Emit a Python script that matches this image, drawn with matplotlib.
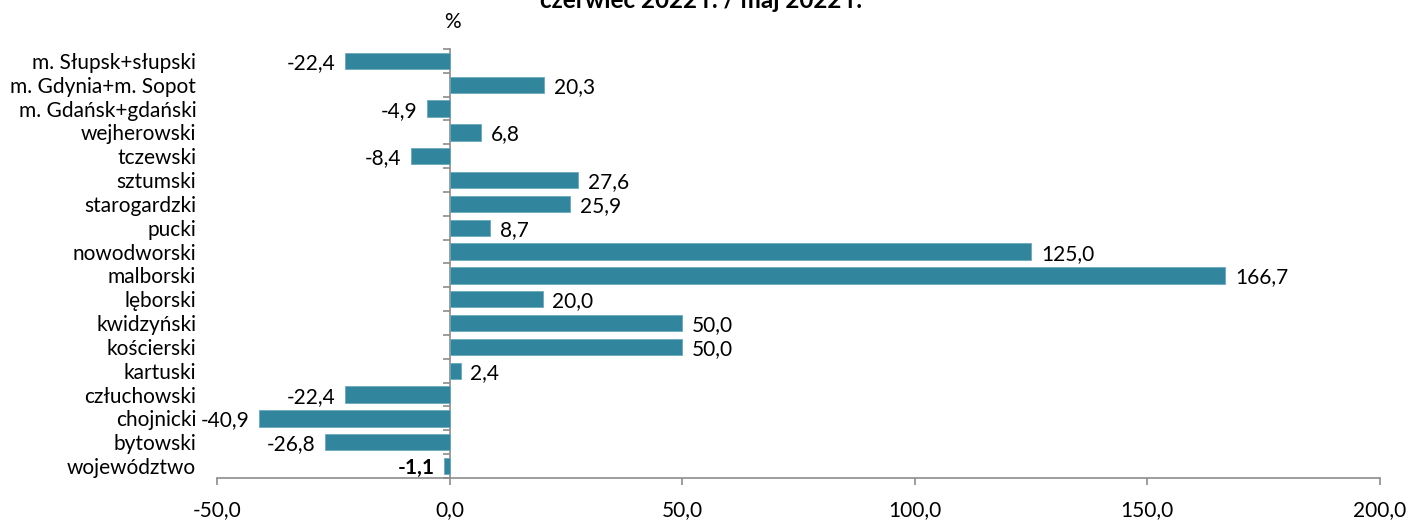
import matplotlib
matplotlib.use("Agg")
import matplotlib.pyplot as plt
import numpy as np

plt.rcParams['font.family'] = ['Lato', 'DejaVu Sans']

# dane: czerwiec 2022 r. / maj 2022 r. (%)
regions = ["m. Słupsk+słupski", "m. Gdynia+m. Sopot", "m. Gdańsk+gdański",
           "wejherowski", "tczewski", "sztumski", "starogardzki", "pucki",
           "nowodworski", "malborski", "lęborski", "kwidzyński", "kościerski",
           "kartuski", "człuchowski", "chojnicki", "bytowski", "województwo"]
values = [-22.4, 20.3, -4.9, 6.8, -8.4, 27.6, 25.9, 8.7, 125.0, 166.7,
          20.0, 50.0, 50.0, 2.4, -22.4, -40.9, -26.8, -1.1]
xticks = [-50, 0, 50, 100, 150, 200]

bar_color = "#31859c"
axis_gray = "#8c8c8c"
fs = 15

fig = plt.figure(figsize=(14.1, 5.2), dpi=100)
ax = fig.add_axes([0.1539, 0.0808, 0.8248, 0.8250])

n = len(regions)
ypos = np.arange(n)[::-1]  # first region at top
ax.barh(ypos, values, height=0.68, color=bar_color, edgecolor="#6aaabd",
        linewidth=0.6, zorder=2)

ax.set_xlim(-50, 200)
ax.set_ylim(-0.5, n - 0.5)

# data labels
for y, v in zip(ypos, values):
    txt = f"{v:.1f}".replace(".", ",")
    bold = regions[n - 1 - y] == "województwo"
    off = 7 if v >= 0 else -7
    ax.annotate(txt, (v, y), xytext=(off, -1.5), textcoords="offset points",
                ha="left" if v >= 0 else "right", va="center", fontsize=fs,
                fontweight="bold" if bold else "normal", color="black")

# category labels at left
ax.set_yticks(ypos)
ax.set_yticklabels(regions, fontsize=fs)
ax.tick_params(axis="y", length=0, pad=15)

# x axis
ax.set_xticks(xticks)
ax.set_xticklabels([f"{t:.1f}".replace(".", ",") for t in xticks], fontsize=fs)
ax.tick_params(axis="x", direction="out", length=5, color=axis_gray,
               width=1.2, pad=11)

for s in ["top", "right", "left"]:
    ax.spines[s].set_visible(False)
ax.spines["bottom"].set_color(axis_gray)
ax.spines["bottom"].set_linewidth(1.2)

# vertical axis at zero with ticks between categories
zero_frac = (0 - (-50)) / (200 - (-50))
sec = ax.secondary_yaxis(zero_frac)
sec.set_yticks(np.arange(n + 1) - 0.5)
sec.set_yticklabels([])
sec.tick_params(direction="out", length=5, color=axis_gray, width=1.2)
sec.spines["left"].set_color(axis_gray)
sec.spines["left"].set_linewidth(1.2)

fig.text(701 / 1410, 1 - 8 / 520, "czerwiec 2022 r. / maj 2022 r.", ha="center",
         va="baseline", fontsize=17.5, fontweight="bold")
fig.text(452 / 1410, 1 - 22 / 520, "%", ha="center", va="center", fontsize=fs)

fig.savefig("out.png", dpi=100)
